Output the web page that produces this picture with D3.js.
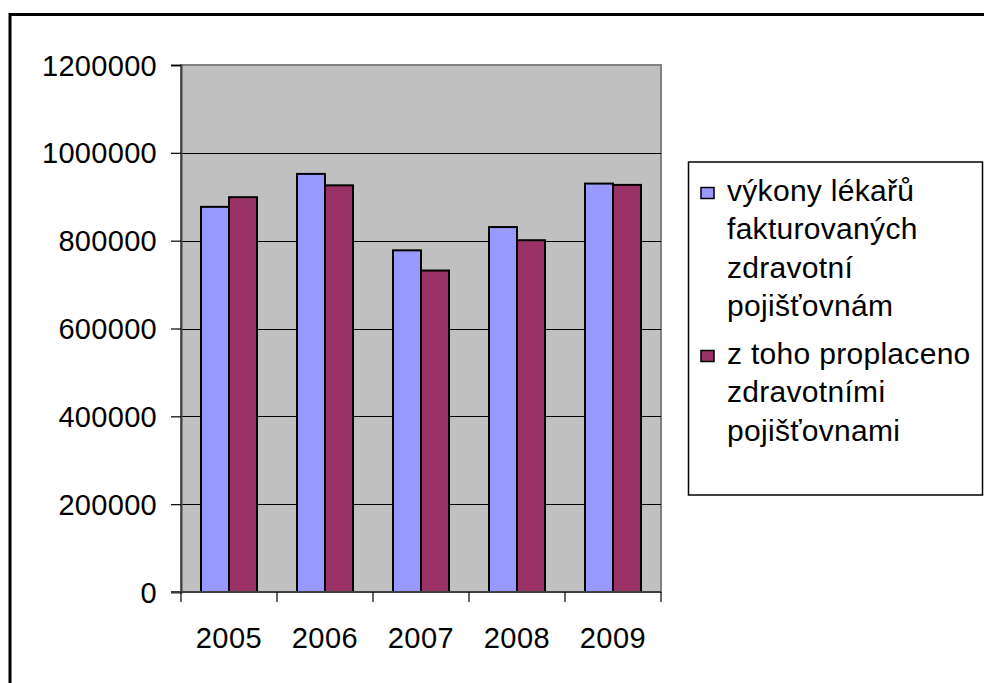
<!DOCTYPE html>
<html>
<head>
<meta charset="utf-8">
<script src="https://cdn.jsdelivr.net/npm/d3@7"></script>
<style>
  body { margin: 0; background: #fff; }
  svg { display: block; }
  text { font-family: "Liberation Sans", Arial, sans-serif; fill: #000; }
</style>
</head>
<body>
<svg id="chart" width="984" height="683"></svg>
<script>
var years = ["2005", "2006", "2007", "2008", "2009"];
var seriesNames = ["výkony lékařů fakturovaných zdravotní pojišťovnám",
                   "z toho proplaceno zdravotními pojišťovnami"];
var legendLines = [["výkony lékařů", "fakturovaných", "zdravotní", "pojišťovnám"],
                   ["z toho proplaceno", "zdravotními", "pojišťovnami"]];
var fakturovano = [877000, 952000, 778000, 831000, 930000];
var proplaceno = [899000, 926000, 732000, 801000, 927000];
var yTicks = [0, 200000, 400000, 600000, 800000, 1000000, 1200000];
var colors = ["#9999FF", "#993366"];

var svg = d3.select("#chart");

var plot = { left: 181, top: 65, right: 661, bottom: 592 };

// outer chart frame (runs off the page on the right and bottom)
svg.append("rect")
    .attr("x", 10).attr("y", 14.5)
    .attr("width", 1000).attr("height", 700)
    .attr("fill", "#fff")
    .attr("stroke", "#000")
    .attr("stroke-width", 3);

var x = d3.scaleBand()
    .domain(years)
    .range([plot.left, plot.right]);

var x1 = d3.scaleBand()
    .domain([0, 1])
    .range([20, x.bandwidth() - 20]);

var y = d3.scaleLinear()
    .domain([0, 1200000])
    .range([plot.bottom, plot.top]);

// plot area
svg.append("rect")
    .attr("x", plot.left).attr("y", plot.top)
    .attr("width", plot.right - plot.left)
    .attr("height", plot.bottom - plot.top)
    .attr("fill", "#C0C0C0")
    .attr("stroke", "#808080")
    .attr("stroke-width", 2);

// gridlines
svg.append("g")
    .selectAll("line")
    .data(yTicks.filter(function (d) { return d > 0 && d < 1200000; }))
    .enter().append("line")
    .attr("x1", plot.left).attr("x2", plot.right)
    .attr("y1", function (d) { return Math.round(y(d)) + 0.5; })
    .attr("y2", function (d) { return Math.round(y(d)) + 0.5; })
    .attr("stroke", "#000")
    .attr("stroke-width", 1.2);

// bars
var data = years.map(function (yr, i) {
    return { year: yr, values: [fakturovano[i], proplaceno[i]] };
});

var groups = svg.append("g")
    .selectAll("g")
    .data(data)
    .enter().append("g")
    .attr("transform", function (d) { return "translate(" + x(d.year) + ",0)"; });

groups.selectAll("rect")
    .data(function (d) { return d.values; })
    .enter().append("rect")
    .attr("x", function (d, i) { return x1(i); })
    .attr("y", function (d) { return y(d); })
    .attr("width", x1.bandwidth())
    .attr("height", function (d) { return plot.bottom - y(d); })
    .attr("fill", function (d, i) { return colors[i]; })
    .attr("stroke", "#000")
    .attr("stroke-width", 2);

// y axis
var yAxis = svg.append("g")
    .attr("transform", "translate(" + plot.left + ",0)")
    .call(d3.axisLeft(y).tickValues(yTicks).tickSize(10).tickPadding(14).tickFormat(d3.format("d")));
yAxis.select(".domain").attr("stroke", "#404040").attr("stroke-width", 2);
yAxis.selectAll(".tick line").attr("stroke", "#000").attr("stroke-width", 1.2);
yAxis.selectAll("text")
    .style("font-size", "29px")
    .style("letter-spacing", "0.3px")
    .attr("dy", "0.35em")
    .style("font-family", "'Liberation Sans', Arial, sans-serif");

// x axis
var xAxis = svg.append("g");
xAxis.append("line")
    .attr("x1", plot.left - 10).attr("x2", plot.right)
    .attr("y1", plot.bottom).attr("y2", plot.bottom)
    .attr("stroke", "#404040").attr("stroke-width", 2);
var bounds = years.map(function (d) { return x(d); }).concat([plot.right]);
xAxis.selectAll("line.tk")
    .data(bounds)
    .enter().append("line")
    .attr("class", "tk")
    .attr("x1", function (d) { return d; }).attr("x2", function (d) { return d; })
    .attr("y1", plot.bottom).attr("y2", plot.bottom + 10)
    .attr("stroke", "#000").attr("stroke-width", 1.2);
xAxis.selectAll("text")
    .data(years)
    .enter().append("text")
    .attr("x", function (d) { return x(d) + x.bandwidth() / 2; })
    .attr("y", 648)
    .attr("text-anchor", "middle")
    .style("font-size", "29px")
    .style("letter-spacing", "0.5px")
    .text(function (d) { return d; });

// legend
var legend = svg.append("g");
legend.append("rect")
    .attr("x", 688.5).attr("y", 162)
    .attr("width", 294).attr("height", 333)
    .attr("fill", "#fff")
    .attr("stroke", "#000")
    .attr("stroke-width", 1.5);

var entryTop = [200.5, 363.5];
var lineH = 38.5;
legendLines.forEach(function (lines, k) {
    legend.append("rect")
        .attr("x", 701).attr("y", entryTop[k] - 13)
        .attr("width", 13).attr("height", 11)
        .attr("fill", colors[k])
        .attr("stroke", "#000")
        .attr("stroke-width", 1.5)
        .append("title").text(seriesNames[k]);
    legend.selectAll("text.l" + k)
        .data(lines)
        .enter().append("text")
        .attr("class", "l" + k)
        .attr("x", 727)
        .attr("y", function (d, i) { return entryTop[k] + i * lineH; })
        .style("font-size", "30px")
        .style("letter-spacing", "0.3px")
        .text(function (d) { return d; });
});
</script>
</body>
</html>
